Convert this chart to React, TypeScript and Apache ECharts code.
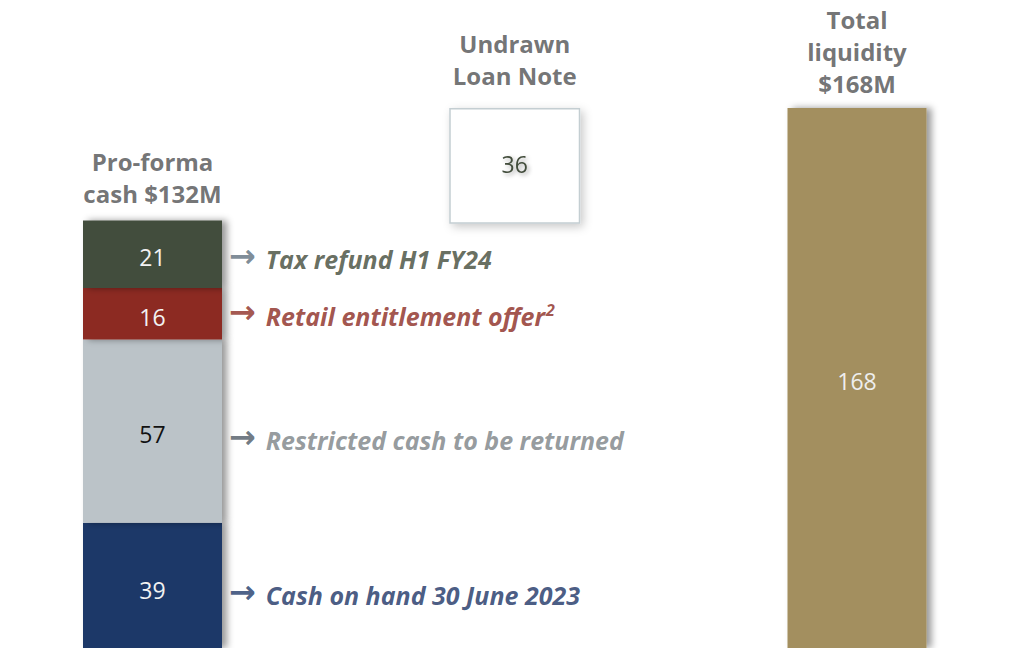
import React, { useEffect, useRef } from 'react';
import * as echarts from 'echarts';

const categories = ['Pro-forma cash', 'Undrawn Loan Note', 'Total liquidity'];
const headerTexts = ['Pro-forma\ncash $132M', 'Undrawn\nLoan Note', 'Total\nliquidity\n$168M'];
const segmentNames = ['Cash on hand 30 June 2023', 'Restricted cash to be returned', 'Retail entitlement offer', 'Tax refund H1 FY24'];
const segmentValues = [39, 57, 16, 21];
const segmentSuperscripts = ['', '', '2', ''];
const proFormaCash = 132;
const undrawnLoanNote = 36;
const totalLiquidity = 168;

const segmentColors = ['#1e3868', '#bbc3c8', '#8c2b22', '#434d3c'];
const segmentLabelColors = ['#f2f2f2', '#111111', '#f2f2f2', '#f2f2f2'];
const annotationColors = ['#1a3264', '#7a8185', '#8a2820', '#3f4938'];
const arrowColors = ['#1e3868', '#4d5863', '#8c2b22', '#5d6e7c'];
const annotationOffsets = [10, 9, 2, 5];
const labelOffsets = [5, 3, 3, 3];

const FONT = 'Open Sans';
const shadow = { shadowColor: 'rgba(0,0,0,0.4)', shadowBlur: 7, shadowOffsetX: 5, shadowOffsetY: 0 };

export default function App() {
  const ref = useRef<HTMLDivElement>(null);
  useEffect(() => {
    const chart = echarts.init(ref.current!, null, { renderer: 'svg' });
    const empty = categories.map(() => '-' as any);
    const gridBase = { top: 108, height: 540, width: 704.5 };

    const segSeries = segmentValues.map((v, i) => {
      const data = empty.slice();
      data[0] = v;
      return {
        type: 'bar', name: segmentNames[i], stack: 'cash', xAxisIndex: 0, yAxisIndex: 0,
        barWidth: 139, data, clip: false,
        itemStyle: { color: segmentColors[i], ...shadow },
        label: { show: true, position: 'inside', offset: [0, labelOffsets[i]], color: segmentLabelColors[i], fontFamily: FONT, fontSize: 23, fontWeight: 500 },
      };
    });

    const totalData = empty.slice();
    totalData[2] = totalLiquidity;
    const baseData = empty.slice();
    baseData[1] = proFormaCash;
    const loanData = empty.slice();
    loanData[1] = undrawnLoanNote;

    let cum = 0;
    const annotationData = segmentValues.map((v, i) => {
      const mid = cum + v / 2;
      cum += v;
      const sup = segmentSuperscripts[i] ? `{s|${segmentSuperscripts[i]}}` : '';
      return {
        value: [0, mid],
        label: {
          offset: [0, annotationOffsets[i]],
          formatter: `{a|→}{t|${segmentNames[i]}}${sup}`,
          rich: {
            a: { fontFamily: 'DejaVu Sans', fontWeight: 'bold', fontSize: 32, color: arrowColors[i], padding: [0, 10, 7, 0] },
            t: { fontFamily: FONT, fontStyle: 'italic', fontWeight: 'bold', fontSize: 25, color: annotationColors[i] },
            s: { fontFamily: FONT, fontStyle: 'italic', fontWeight: 'bold', fontSize: 16, color: annotationColors[i], padding: [0, 0, 11, 1] },
          },
        },
      };
    });

    const headerLabel = { show: true, position: 'top', color: '#4f5052', fontFamily: FONT, fontWeight: 'bold', fontSize: 24, lineHeight: 32, align: 'center' };

    chart.setOption({
      animation: false,
      grid: [
        { ...gridBase, left: 152.5 },
        { ...gridBase, left: 162.5 },
      ],
      xAxis: [
        { type: 'category', data: categories, gridIndex: 0, show: false, boundaryGap: false },
        { type: 'category', data: categories, gridIndex: 1, show: false, boundaryGap: false },
      ],
      yAxis: [
        { type: 'value', min: 0, max: totalLiquidity, gridIndex: 0, show: false, splitLine: { show: false } },
        { type: 'value', min: 0, max: totalLiquidity, gridIndex: 1, show: false, splitLine: { show: false } },
      ],
      series: [
        ...segSeries,
        {
          type: 'bar', name: 'Total liquidity', stack: 'cash', xAxisIndex: 0, yAxisIndex: 0, barWidth: 140, data: totalData, clip: false,
          itemStyle: { color: '#a38f5f', ...shadow },
          label: { show: true, position: 'inside', offset: [0, 3], color: '#eeeeee', fontFamily: FONT, fontSize: 23, fontWeight: 500 },
        },
        {
          type: 'bar', name: 'base', stack: 'loan', xAxisIndex: 1, yAxisIndex: 1, barWidth: 131, data: baseData, clip: false,
          itemStyle: { color: 'transparent' }, silent: true,
        },
        {
          type: 'bar', name: 'Undrawn Loan Note', stack: 'loan', xAxisIndex: 1, yAxisIndex: 1, barWidth: 131, data: loanData, clip: false,
          itemStyle: { color: '#ffffff', borderColor: '#c4ced2', borderWidth: 1.5, shadowColor: 'rgba(0,0,0,0.22)', shadowBlur: 10, shadowOffsetX: 3, shadowOffsetY: 3 },
          label: {
            show: true, position: 'inside', offset: [0, -2], color: '#434d3c', fontFamily: FONT, fontSize: 23, fontWeight: 500,
            textShadowColor: 'rgba(0,0,0,0.35)', textShadowBlur: 4, textShadowOffsetX: 2, textShadowOffsetY: 2,
          },
        },
        {
          type: 'scatter', name: 'annotations', xAxisIndex: 0, yAxisIndex: 0, symbolSize: 1, clip: false,
          itemStyle: { color: 'transparent' },
          label: { show: true, position: 'right', distance: 76 },
          data: annotationData,
        },
        {
          type: 'scatter', name: 'headers', xAxisIndex: 0, yAxisIndex: 0, symbolSize: 1, clip: false,
          itemStyle: { color: 'transparent' },
          label: { ...headerLabel, formatter: (p: any) => headerTexts[p.value[0]] },
          data: [
            { value: [0, proFormaCash], label: { distance: 14 } },
            { value: [2, totalLiquidity], label: { distance: 8 } },
          ],
        },
        {
          type: 'scatter', name: 'headers2', xAxisIndex: 1, yAxisIndex: 1, symbolSize: 1, clip: false,
          itemStyle: { color: 'transparent' },
          label: { ...headerLabel, formatter: (p: any) => headerTexts[p.value[0]] },
          data: [{ value: [1, totalLiquidity], label: { distance: 16 } }],
        },
      ],
    });
    return () => chart.dispose();
  }, []);
  return <div ref={ref} style={{ position: 'absolute', left: 0, top: 0, width: 1012, height: 648 }} />;
}
